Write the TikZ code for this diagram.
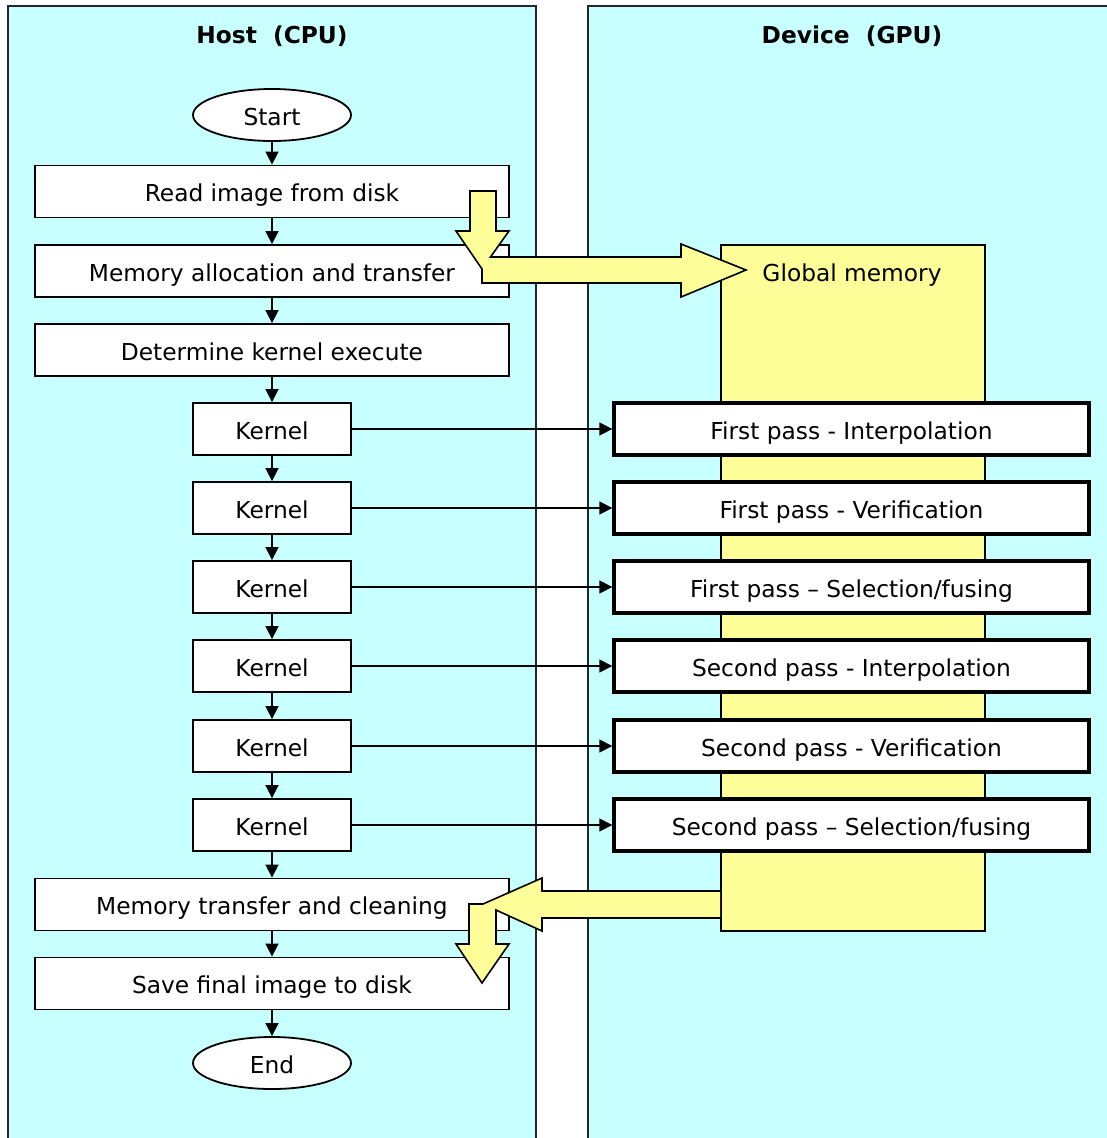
\documentclass[tikz,border=0pt]{standalone}
\usepackage{fontspec}
\setmainfont{DejaVu Sans}
\usetikzlibrary{arrows.meta,shapes.geometric}
\definecolor{panelcyan}{HTML}{C8FFFF}
\definecolor{memyellow}{HTML}{FFFF99}
\tikzset{
  txt/.style={font=\fontsize{23.3}{27}\selectfont, text height=22pt, text depth=2pt},
  panel/.style={draw=black!85, fill=panelcyan, line width=1.8pt},
  hbox/.style={draw, fill=white, line width=1.8pt, minimum width=474pt,
    minimum height=52pt, inner sep=0pt},
  kbox/.style={hbox, minimum width=158pt},
  gbox/.style={draw, fill=white, line width=3.4pt, minimum width=475pt,
    minimum height=52pt, inner sep=0pt},
  term/.style={ellipse, draw, fill=white, line width=1.8pt,
    minimum width=158pt, minimum height=52pt, inner sep=0pt},
  flow/.style={-{Triangle[length=13pt,width=13pt]}, line width=1.6pt},
  bigarrow/.style={fill=memyellow, draw, line width=1.6pt, line join=miter},
  title/.style={font=\fontsize{23.3}{27}\selectfont\bfseries}
}
\begin{document}
\begin{tikzpicture}[x=1pt,y=-1pt,every node/.style={txt}]
\useasboundingbox (0,0) rectangle (1107,1138);
\fill[white] (0,0) rectangle (1107,1138);

% host and device columns
\draw[panel] (8,6) rectangle (536,1160);
\draw[panel] (588,6) rectangle (1130,1160);
\node[title] (hosttitle) at (272,33) {Host\ \ (CPU)};
\node[title] (devtitle) at (852,33) {Device\ \ (GPU)};

% global memory block
\node[draw, fill=memyellow, line width=1.8pt, anchor=north west,
  minimum width=264pt, minimum height=686pt, inner sep=0pt] (gmem) at (720,244) {};
\node (gmlabel) at (852,271) {Global memory};

% host flow
\node[term] (start) at (272,115) {Start};
\node[hbox] (read)  at (272,191.5) {Read image from disk};
\node[hbox] (alloc) at (272,271) {Memory allocation and transfer};
\node[hbox] (det)   at (272,350) {Determine kernel execute};
\node[kbox] (k1) at (272,429) {Kernel};
\node[kbox] (k2) at (272,508) {Kernel};
\node[kbox] (k3) at (272,587) {Kernel};
\node[kbox] (k4) at (272,666) {Kernel};
\node[kbox] (k5) at (272,746) {Kernel};
\node[kbox] (k6) at (272,825) {Kernel};
\node[hbox] (clean) at (272,904.5) {Memory transfer and cleaning};
\node[hbox] (save)  at (272,983.5) {Save final image to disk};
\node[term] (end) at (272,1063) {End};

% device passes
\node[gbox] (p1) at (851.5,429) {First pass - Interpolation};
\node[gbox] (p2) at (851.5,508) {First pass - Verification};
\node[gbox] (p3) at (851.5,587) {First pass -- Selection/fusing};
\node[gbox] (p4) at (851.5,666) {Second pass - Interpolation};
\node[gbox] (p5) at (851.5,746) {Second pass - Verification};
\node[gbox] (p6) at (851.5,825) {Second pass -- Selection/fusing};

% host sequence
\foreach \a/\b in {start/read,read/alloc,alloc/det,det/k1,k1/k2,k2/k3,k3/k4,
                   k4/k5,k5/k6,k6/clean,clean/save,save/end}
  \draw[flow] (\a) -- (\b);

% kernel launches
\foreach \i in {1,...,6}
  \draw[flow] (k\i) -- (p\i);

% transfer to device memory
\draw[bigarrow] (470,191) -- (496,191) -- (496,231) -- (509,231)
  -- (490.5,257) -- (681,257) -- (681,244) -- (746,270) -- (681,297)
  -- (681,283) -- (482,283) -- (482,269) -- (456,231) -- (470,231) -- cycle;

% transfer back to host
\fill[memyellow] (720,891) -- (542,891) -- (542,878) -- (483,904)
  -- (469,904) -- (469,944) -- (456,944) -- (482,983) -- (509,944)
  -- (496,944) -- (496,910) -- (542,931) -- (542,918) -- (720,918) -- cycle;
\draw[line width=1.6pt, line join=miter] (720,891) -- (542,891) -- (542,878) -- (483,904)
  -- (469,904) -- (469,944) -- (456,944) -- (482,983) -- (509,944)
  -- (496,944) -- (496,910) -- (542,931) -- (542,918) -- (720,918);
\end{tikzpicture}
\end{document}
